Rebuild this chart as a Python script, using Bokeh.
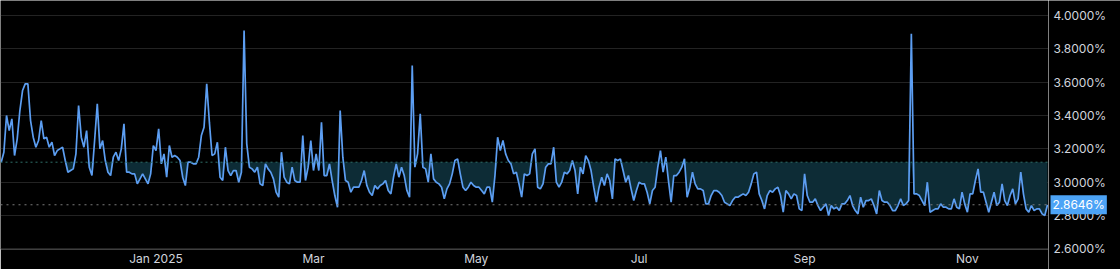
import numpy as np
import pandas as pd
from bokeh.plotting import figure
from bokeh.layouts import row
from bokeh.models import Range1d, FixedTicker, Span, Label, Grid, ColumnDataSource
from bokeh.core.properties import value
from bokeh.embed import file_html
from bokeh.resources import INLINE

# ---- data (daily rate, %) ----
start_date = "2024-11-04"
rate = [
    3.12, 3.18, 3.40, 3.31, 3.38, 3.16, 3.26, 3.43, 3.55, 3.59,
    3.59, 3.37, 3.27, 3.21, 3.25, 3.37, 3.26, 3.27, 3.21, 3.24,
    3.16, 3.19, 3.20, 3.21, 3.13, 3.06, 3.07, 3.08, 3.17, 3.46,
    3.27, 3.21, 3.31, 3.09, 3.04, 3.25, 3.47, 3.20, 3.25, 3.13,
    3.06, 3.04, 3.15, 3.18, 3.13, 3.20, 3.35, 3.06, 3.06, 3.05,
    3.05, 2.99, 3.02, 3.05, 3.02, 2.99, 3.05, 3.22, 3.19, 3.32,
    3.11, 3.17, 3.03, 3.22, 3.15, 3.16, 3.15,
    3.13, 3.03, 2.98, 3.12, 3.12, 3.11, 3.11, 3.15, 3.28, 3.33,
    3.59, 3.36, 3.16, 3.17, 3.24, 3.03, 3.01, 3.21, 3.07, 3.04,
    3.07, 3.07, 3.00, 3.06, 3.91, 3.23, 3.09, 3.08, 3.06, 3.09,
    2.99, 2.98, 3.11, 3.08, 3.06, 3.02, 2.94, 2.91, 3.18, 3.03,
    3.00, 2.99, 3.09, 3.01, 3.00, 3.00, 3.28, 3.01, 3.09, 3.25,
    3.07, 3.17, 3.07, 3.36, 3.04, 3.04, 3.11, 3.01, 2.92, 2.85,
    3.43, 3.15, 3.01, 3.00, 2.94,
    2.97, 2.97, 2.97, 3.01, 3.07, 2.98, 2.94, 2.92, 2.98, 2.96,
    2.98, 2.99, 3.01, 2.95, 2.93, 3.03, 3.11, 3.03, 3.09, 3.04,
    2.95, 2.91, 3.70, 3.09, 3.17, 3.41, 3.09, 3.08, 3.00, 3.17,
    3.02, 3.00, 2.99, 2.97, 2.90, 2.96, 2.99, 3.05, 3.13, 3.14,
    3.05, 2.97, 2.95, 2.97, 3.00, 2.98, 2.97, 2.97, 2.95, 2.93,
    2.97, 2.97, 2.88, 3.04, 3.27, 3.19, 3.25, 3.17, 3.13, 3.11,
    3.05, 3.06, 2.99, 2.91, 3.05, 3.04,
    3.05, 3.17, 3.20, 2.97, 2.96, 2.99, 3.09, 3.11, 3.11, 3.21,
    3.00, 2.97, 3.00, 3.06, 3.05, 3.07, 3.13, 3.07, 2.93, 3.09,
    3.05, 3.16, 3.13, 3.07, 2.97, 2.88, 2.97, 3.03, 2.98, 3.05,
    3.01, 2.90, 3.14, 3.13, 3.14, 3.07, 3.00, 3.04, 2.96, 2.89,
    2.95, 3.00, 2.99, 2.99, 2.94, 2.87, 2.95, 2.97, 3.09, 3.19,
    3.06, 3.15, 3.01, 2.88, 3.04, 3.04, 3.06, 3.09, 3.14, 2.91,
    2.97, 3.06, 2.99, 2.96, 2.96, 2.95,
    2.87, 2.87, 2.92, 2.95, 2.95, 2.94, 2.92, 2.88, 2.87, 2.86,
    2.89, 2.91, 2.91, 2.92, 2.93, 2.92, 2.94, 2.99, 3.05, 3.06,
    2.93, 2.89, 2.84, 2.92, 2.95, 2.94, 2.96, 2.97, 2.92, 2.82,
    2.95, 2.93, 2.90, 2.93, 2.92, 2.84, 2.83, 3.05, 2.92, 2.88,
    2.88, 2.90, 2.86, 2.83, 2.85, 2.87, 2.80, 2.86, 2.84, 2.85,
    2.83, 2.87, 2.87, 2.89, 2.92, 2.86, 2.83, 2.81, 2.91, 2.85,
    2.89, 2.89, 2.90, 2.86, 2.81,
    2.95, 2.89, 2.88, 2.88, 2.86, 2.83, 2.83, 2.86, 2.90, 2.86,
    2.87, 2.89, 3.89, 2.93, 2.93, 2.92, 2.89, 2.86, 3.00, 2.82,
    2.83, 2.84, 2.84, 2.87, 2.85, 2.85, 2.84, 2.84, 2.90, 2.85,
    2.84, 2.94, 2.87, 2.82, 2.93, 2.93, 3.01, 3.08, 2.94, 2.94,
    2.88, 2.82, 2.88, 2.94, 2.86, 2.88, 2.99, 2.89, 2.86, 2.92,
    2.96, 2.87, 2.90, 3.06, 2.93, 2.84, 2.82, 2.86, 2.83, 2.84,
    2.84, 2.81, 2.80, 2.8646,
]
baseline = 3.12
y_ticks = [2.6, 2.8, 3.0, 3.2, 3.4, 3.6, 3.8, 4.0]
y_tick_labels = ["%.4f%%" % t for t in y_ticks]
x_tick_dates = ["2025-01-01", "2025-03-01", "2025-05-01", "2025-07-01", "2025-09-01", "2025-11-01"]
x_tick_labels = ["Jan 2025", "Mar", "May", "Jul", "Sep", "Nov"]

dates = pd.date_range(start_date, periods=len(rate), freq="D")
vals = np.array(rate)
src = ColumnDataSource(dict(
    x=dates,
    y=vals,
    lo=np.minimum(vals, baseline),
    base=np.full(len(vals), baseline),
))

# ---- layout constants ----
PX_PER_PCT = 166.7
Y_TOP = 4.09
MAIN_FRAME_H = 249
SIDE_FRAME_H = 269
day = pd.Timedelta(days=1)
x0 = pd.Timestamp("2025-01-01") - 58.26 * day
x1 = x0 + 392.65 * day

p = figure(frame_width=1048, frame_height=MAIN_FRAME_H, x_axis_type="datetime", y_axis_location=None,
           output_backend="svg", toolbar_location=None,
           x_range=Range1d(x0.value / 1e6, x1.value / 1e6),
           y_range=Range1d(Y_TOP - MAIN_FRAME_H / PX_PER_PCT, Y_TOP),
           background_fill_color="#000000", border_fill_color="#000000",
           min_border_left=0, min_border_top=0, min_border_right=0, min_border_bottom=20)
p.outline_line_color = None

p.add_layout(Grid(dimension=1, ticker=FixedTicker(ticks=y_ticks),
                  grid_line_color="#232323", grid_line_width=1))

# baseline area (below the baseline)
p.varea(x="x", y1="lo", y2="base", source=src, fill_color="#0d2c36", fill_alpha=1.0)

# reference lines
p.add_layout(Span(location=baseline, dimension="width", line_color="#2f6f68",
                  line_dash="2 3", line_width=1))
p.add_layout(Span(location=rate[-1], dimension="width", line_color="#7a7a7a",
                  line_dash="2 4", line_width=1))

p.line(x="x", y="y", source=src, line_color="#5c9ef2", line_width=1.7)

xt = [pd.Timestamp(d).value // 10**6 for d in x_tick_dates]
xa = p.xaxis[0]
xa.ticker = FixedTicker(ticks=xt)
xa.major_label_overrides = {t: l for t, l in zip(xt, x_tick_labels)}
xa.axis_line_color = None
xa.major_tick_line_color = None
xa.major_tick_out = 0
xa.major_tick_in = 0
xa.minor_tick_line_color = None
xa.major_label_text_color = "#d1d4dc"
xa.major_label_text_font = "Inter"
xa.major_label_text_font_size = "12px"
xa.major_label_standoff = 1
p.xgrid.grid_line_color = None

# ---- price scale (right) ----
s = figure(frame_width=72, frame_height=SIDE_FRAME_H, x_axis_location=None, y_axis_location=None,
           output_backend="svg", toolbar_location=None,
           x_range=Range1d(0, 72), y_range=Range1d(Y_TOP - SIDE_FRAME_H / PX_PER_PCT, Y_TOP),
           background_fill_color="#000000", border_fill_color="#000000",
           min_border_left=0, min_border_top=0, min_border_right=0, min_border_bottom=0)
s.outline_line_color = None
s.xgrid.grid_line_color = None
s.ygrid.grid_line_color = None
tick_src = ColumnDataSource(dict(y=y_ticks, text=y_tick_labels))
s.text(x=5, y="y", text="text", source=tick_src, text_color="#d1d4dc",
       text_font=value("Inter"), text_font_size="12px",
       text_baseline="middle", text_align="left")
s.add_layout(Label(x=2, y=rate[-1], text="%.4f%%" % rate[-1],
                   text_color="#ffffff", text_font="Inter", text_font_size="12px",
                   text_baseline="middle", text_align="left",
                   background_fill_color="#4ca3f6", background_fill_alpha=1.0,
                   padding=2))

layout = row(p, s, spacing=0)
open("out.html", "w").write(file_html(layout, INLINE))
